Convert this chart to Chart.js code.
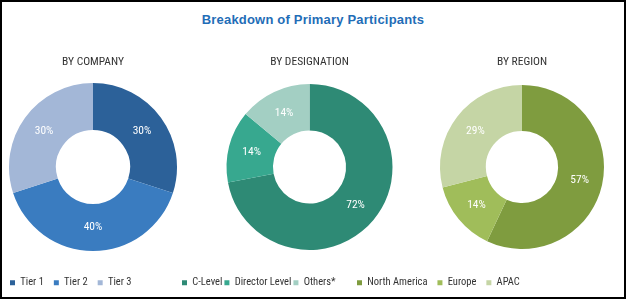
<!DOCTYPE html>
<html><head><meta charset="utf-8">
<script src="https://cdn.jsdelivr.net/npm/chart.js@4"></script>
<style>
body{margin:0;background:#fff;}
#wrap{position:relative;width:626px;height:300px;overflow:hidden;background:#fff;}
#frame{position:absolute;left:0;top:0;width:626px;height:299px;box-sizing:border-box;border:2px solid #000;pointer-events:none;}
#title{position:absolute;left:0;top:12px;width:626px;text-align:center;font:bold 13px 'Liberation Sans',Arial,sans-serif;letter-spacing:0.2px;color:#1f6db7;line-height:15px;}
canvas{position:absolute;}
</style></head>
<body><div id="wrap">
<div id="title">Breakdown of Primary Participants</div>
<canvas id="c1" width="186" height="258" style="left:0px;top:40px"></canvas>
<canvas id="c2" width="259" height="258" style="left:180px;top:40px"></canvas>
<canvas id="c3" width="350" height="258" style="left:347px;top:40px"></canvas>
<div id="frame"></div>
</div>
<script>
const companyLabels = ['Tier 1', 'Tier 2', 'Tier 3'];
const companyValues = [30, 40, 30];
const designationLabels = ['C-Level', 'Director Level', 'Others*'];
const designationValues = [72, 14, 14];
const regionLabels = ['North America', 'Europe', 'APAC'];
const regionValues = [57, 14, 29];

const companyColors = ['#2c6199', '#3a7cc0', '#a3b7d7'];
const designationColors = ['#2e8a75', '#37a88f', '#a3cfc3'];
const regionColors = ['#7f9c3f', '#a0bd5a', '#c5d5a5'];

const FONT = "'Roboto Condensed', 'Open Sans', sans-serif";

const pctLabels = {
  id: 'pctLabels',
  afterDatasetsDraw(chart) {
    const ctx = chart.ctx;
    const meta = chart.getDatasetMeta(0);
    const vals = chart.data.datasets[0].data;
    ctx.save();
    ctx.fillStyle = '#ffffff';
    ctx.font = '11.5px ' + FONT;
    ctx.textAlign = 'center';
    ctx.textBaseline = 'middle';
    meta.data.forEach((arc, i) => {
      const p = arc.tooltipPosition();
      ctx.fillText(vals[i] + '%', p.x, p.y);
    });
    ctx.restore();
  }
};

function makeChart(id, title, labels, values, colors, radius, pad) {
  return new Chart(document.getElementById(id), {
    type: 'doughnut',
    data: {
      labels: labels,
      datasets: [{ data: values, backgroundColor: colors, borderWidth: 0, radius: radius, cutout: 41 }]
    },
    options: {
      responsive: false,
      animation: false,
      devicePixelRatio: 1,
      layout: { padding: 0 },
      plugins: {
        title: {
          display: true, text: title, color: '#333333',
          font: { family: FONT, size: 11.5, weight: 'normal', lineHeight: 1.2 },
          padding: { top: 15.1, bottom: 5 }
        },
        legend: {
          display: true, position: 'bottom', align: 'start',
          title: { display: true, text: '', font: { size: 1, lineHeight: 1 }, padding: { top: 16.4 - pad, bottom: 0 } },
          labels: {
            color: '#333333', boxWidth: 5, boxHeight: 5, padding: pad,
            font: { family: FONT, size: 10.5 }
          }
        },
        tooltip: { enabled: false }
      }
    },
    plugins: [pctLabels]
  });
}

makeChart('c1', 'BY COMPANY', companyLabels, companyValues, companyColors, 84, 10);
makeChart('c2', 'BY DESIGNATION', designationLabels, designationValues, designationColors, 83, 2);
makeChart('c3', 'BY REGION', regionLabels, regionValues, regionColors, 82, 10);
</script>
</body></html>
